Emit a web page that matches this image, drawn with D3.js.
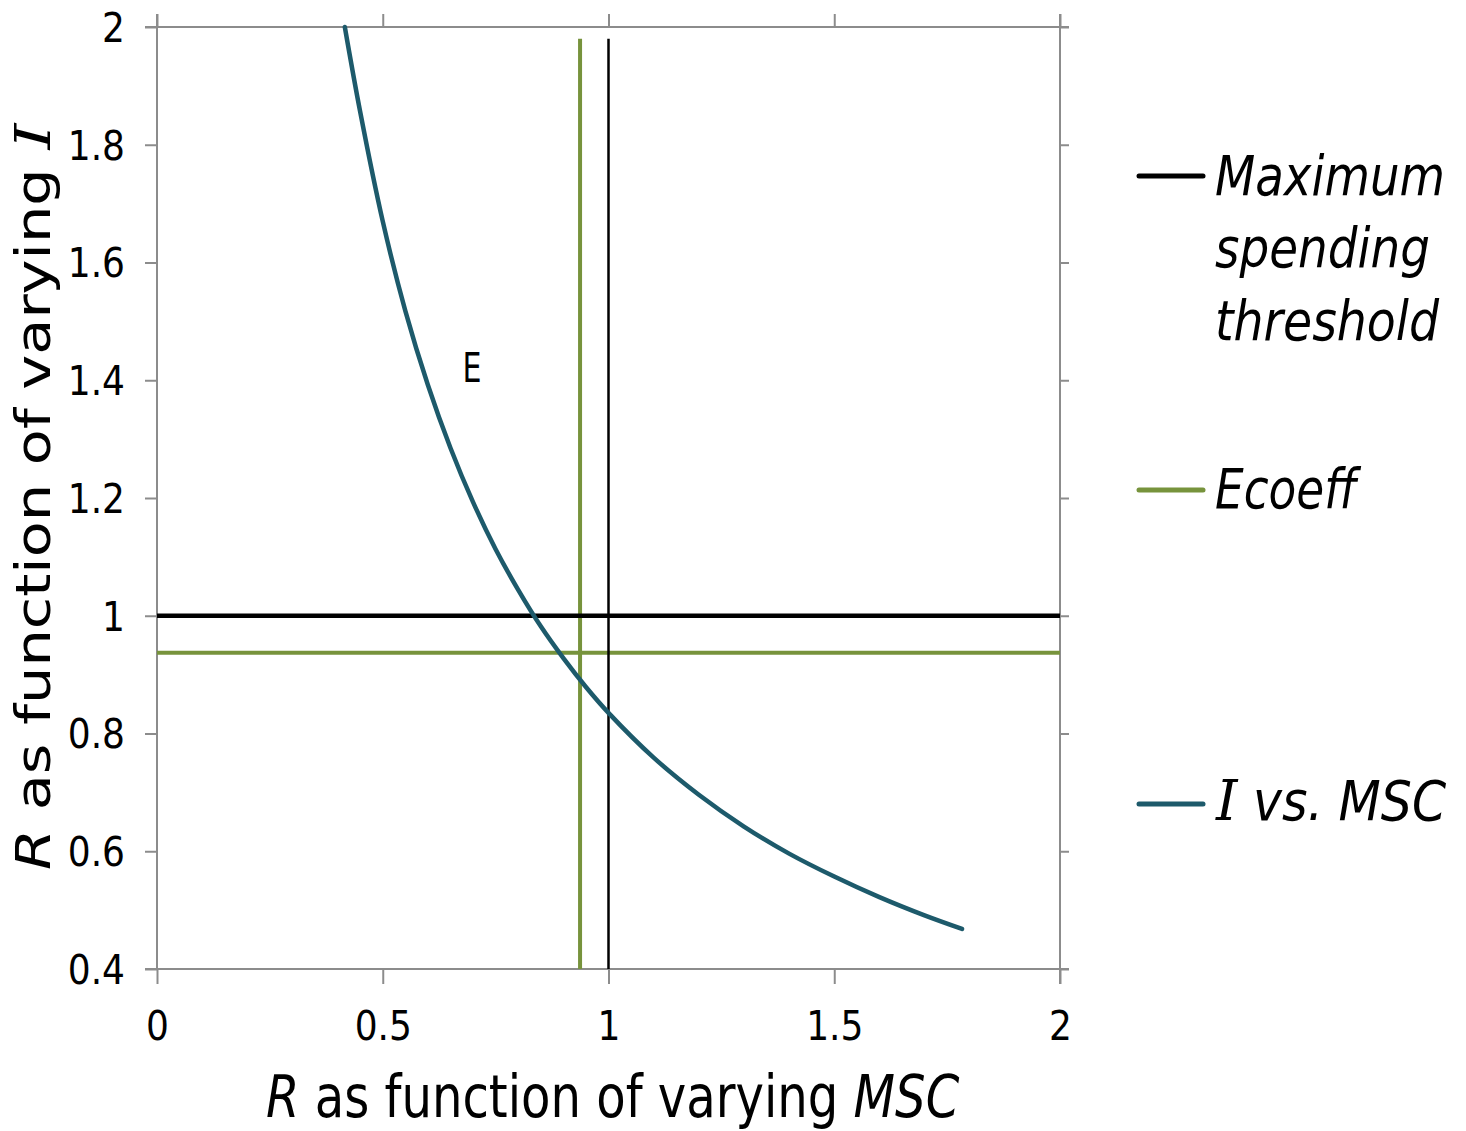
<!DOCTYPE html>
<html><head><meta charset="utf-8">
<script src="https://cdn.jsdelivr.net/npm/d3@7"></script>
<style>
html,body{margin:0;padding:0;background:#fff;}
svg{display:block;}
text{font-family:"DejaVu Sans Condensed","DejaVu Sans",Verdana,sans-serif;}
</style></head>
<body>
<script>
// ---- data ----
const xTicks = [0, 0.5, 1, 1.5, 2];
const yTicks = [0.4, 0.6, 0.8, 1, 1.2, 1.4, 1.6, 1.8, 2];
const xTickLabels = ["0", "0.5", "1", "1.5", "2"];
const yTickLabels = ["0.4", "0.6", "0.8", "1", "1.2", "1.4", "1.6", "1.8", "2"];
const curveX = [0.416, 0.45, 0.5, 0.55, 0.6, 0.65, 0.7, 0.75, 0.8, 0.85, 0.9, 0.95, 1.0, 1.1, 1.2, 1.3, 1.4, 1.5, 1.6, 1.7, 1.783];
const curveY = [2.0, 1.856, 1.670, 1.518, 1.392, 1.285, 1.193, 1.113, 1.044, 0.982, 0.928, 0.879, 0.835, 0.759, 0.696, 0.642, 0.596, 0.557, 0.522, 0.491, 0.468];
const thresholdValue = 1;      // Maximum spending threshold (both axes)
const ecoeffValue = 0.937;     // Ecoeff (both axes)
const verticalTop = 1.98;
const legendNames = ["Maximum spending threshold", "Ecoeff", "I vs. MSC"];
const annotation = "E";

// ---- layout ----
const W = 1466, H = 1131;
const x0 = 157, x1 = 1060, y0 = 27, y1 = 969;
const colors = {threshold: "#000000", ecoeff: "#77933c", curve: "#1d5a6b", axis: "#8c8c8c"};

const svg = d3.select("body").append("svg").attr("width", W).attr("height", H);
const x = d3.scaleLinear().domain([0, 2]).range([x0, x1]);
const y = d3.scaleLinear().domain([0.4, 2]).range([y1, y0]);

function styleAxis(g) {
  g.selectAll("path.domain").attr("stroke", colors.axis).attr("stroke-width", 2);
  g.selectAll(".tick line").attr("stroke", colors.axis).attr("stroke-width", 2);
}

// axes
const gl = svg.append("g").attr("transform", `translate(${x0},0)`)
  .call(d3.axisLeft(y).tickValues(yTicks).tickFormat((d, i) => yTickLabels[i]).tickSize(12).tickSizeOuter(0).tickPadding(20));
const gr = svg.append("g").attr("transform", `translate(${x1},0)`)
  .call(d3.axisRight(y).tickValues(yTicks).tickFormat("").tickSize(9).tickSizeOuter(0));
const gt = svg.append("g").attr("transform", `translate(0,${y0})`)
  .call(d3.axisTop(x).tickValues(xTicks).tickFormat("").tickSize(13).tickSizeOuter(0));
const gb = svg.append("g").attr("transform", `translate(0,${y1})`)
  .call(d3.axisBottom(x).tickValues(xTicks).tickFormat((d, i) => xTickLabels[i]).tickSize(15).tickSizeOuter(0));
[gl, gr, gt, gb].forEach(styleAxis);
gl.select("path.domain").attr("d", `M0,${y0 - 13}V${y1}`);
gb.select("path.domain").attr("d", `M${x0 - 12},0H${x1 + 9}`);
gt.select("path.domain").attr("d", `M${x0 - 12},0H${x1 + 9}`);
gr.select("path.domain").attr("d", `M0,${-13}V${y1 + 15 - y0}`).attr("transform", `translate(0,${y0})`);

gl.selectAll(".tick text").attr("font-size", 40).attr("fill", "#000").attr("dy", "0.36em")
  .attr("font-family", "DejaVu Sans Condensed, DejaVu Sans");
gb.selectAll(".tick text").attr("font-size", 40).attr("fill", "#000").attr("y", 71).attr("dy", 0)
  .attr("font-family", "DejaVu Sans Condensed, DejaVu Sans");

// reference lines
const plot = svg.append("g");
plot.append("line").attr("x1", x(ecoeffValue)).attr("x2", x(ecoeffValue)).attr("y1", y(0.4)).attr("y2", y(verticalTop))
  .attr("stroke", colors.ecoeff).attr("stroke-width", 4);
plot.append("line").attr("x1", x(0)).attr("x2", x(2)).attr("y1", y(ecoeffValue)).attr("y2", y(ecoeffValue))
  .attr("stroke", colors.ecoeff).attr("stroke-width", 4);
plot.append("line").attr("x1", x(thresholdValue)).attr("x2", x(thresholdValue)).attr("y1", y(0.4)).attr("y2", y(verticalTop))
  .attr("stroke", colors.threshold).attr("stroke-width", 2.5);
plot.append("line").attr("x1", x(0)).attr("x2", x(2)).attr("y1", y(thresholdValue)).attr("y2", y(thresholdValue))
  .attr("stroke", colors.threshold).attr("stroke-width", 4.5);

// curve
const pts = curveX.map((v, i) => [v, curveY[i]]);
plot.append("path").datum(pts)
  .attr("d", d3.line().x(d => x(d[0])).y(d => y(d[1])).curve(d3.curveCatmullRom.alpha(0.5)))
  .attr("fill", "none").attr("stroke", colors.curve).attr("stroke-width", 4.5).attr("stroke-linecap", "round");

function placeText(parent, tx, ty, build, targetW, anchor, rotate) {
  const outer = parent.append("g");
  const inner = outer.append("g");
  const t = inner.append("text");
  build(t);
  const bb = t.node().getBBox();
  const s = targetW / bb.width;
  const shift = anchor === "middle" ? -bb.width / 2 - bb.x : -bb.x;
  t.attr("x", shift);
  inner.attr("transform", `scale(${s},1)`);
  outer.attr("transform", `translate(${tx},${ty})` + (rotate ? ` rotate(${rotate})` : ""));
  return outer;
}

// annotation E
placeText(svg, 472, 382, t => t.attr("font-size", 40).attr("fill", "#000").text(annotation), 19, "middle");

// x axis title
placeText(svg, 266, 1117, t => {
  t.attr("font-size", 58).attr("fill", "#000");
  t.append("tspan").attr("font-style", "italic").text("R");
  t.append("tspan").text(" as function of varying ");
  t.append("tspan").attr("font-style", "italic").text("MSC");
}, 694, "start");

// y axis title (rotated)
placeText(svg, 50, 870, t => {
  t.attr("font-size", 48).attr("fill", "#000");
  t.append("tspan").attr("font-style", "italic").text("R");
  t.append("tspan").text(" as function of varying ");
  t.append("tspan").attr("font-family", "DejaVu Serif, serif").attr("font-style", "italic").text("I");
}, 748, "start", -90);

// legend
const legend = svg.append("g");
const legendItems = [
  {color: colors.threshold, ly: 176, lines: [["Maximum", 195, 230], ["spending", 267, 215], ["threshold", 340, 225]]},
  {color: colors.ecoeff, ly: 490, lines: [["Ecoeff", 508, 147]]},
  {color: colors.curve, ly: 804, lines: [["I vs. MSC", 820, 232]]}
];
legendItems.forEach(it => {
  legend.append("line").attr("x1", 1139).attr("x2", 1203).attr("y1", it.ly).attr("y2", it.ly)
    .attr("stroke", it.color).attr("stroke-width", 5).attr("stroke-linecap", "round");
  it.lines.forEach(([s, by, w]) => {
    placeText(legend, 1215, by, t => {
      t.attr("font-size", 56).attr("font-style", "italic").attr("fill", "#000");
      if (s.startsWith("I ")) {
        t.append("tspan").attr("font-family", "DejaVu Serif, serif").text("I");
        t.append("tspan").text(s.slice(1));
      } else t.text(s);
    }, w, "start");
  });
});
</script>
</body></html>
